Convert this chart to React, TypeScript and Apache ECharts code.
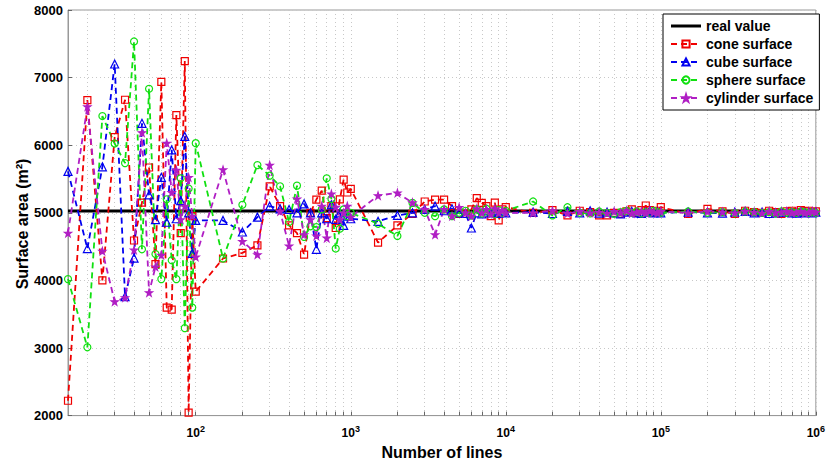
import React, { useEffect, useRef } from "react";
import * as echarts from "echarts";

// Number of lines (x values shared by all series)
const lineCounts = [
  15, 20, 25, 30, 35, 40, 45, 50, 55, 60, 65, 70, 75, 80, 85, 90, 95, 100,
  150, 200, 250, 300, 350, 400, 450, 500, 550, 600, 650, 700, 750, 800, 850, 900, 950, 1000,
  1500, 2000, 2500, 3000, 3500, 4000, 4500, 5000, 5500, 6000, 6500, 7000, 7500, 8000, 8500, 9000, 9500, 10000,
  15000, 20000, 25000, 30000, 35000, 40000, 45000, 50000, 55000, 60000, 65000, 70000, 75000, 80000, 85000, 90000, 95000, 100000,
  150000, 200000, 250000, 300000, 350000, 400000, 450000, 500000, 550000, 600000, 650000, 700000, 750000, 800000, 850000, 900000, 950000, 1000000,
];

const realValue = 5025;

const coneArea = [
  2220, 6666, 4000, 6118, 6672, 4590, 5150, 5670, 4240, 6937, 3598, 3569, 6446, 4700, 7245, 2044, 4950, 3833,
  4324, 4407, 4519, 5392, 5100, 4814, 4700, 4382, 5000, 5196, 5328, 4922, 5100, 4775, 5200, 5490, 5300, 5353,
  4559, 4813, 4985, 5167, 5196, 5196, 5100, 4985, 4985, 5050, 5216, 5147, 5100, 4950, 5150, 4887, 5050, 5083,
  5000, 5040, 4961, 5030, 5010, 4961, 4961, 5000, 4985, 5020, 5050, 5000, 5040, 5108, 5040, 5000, 5030, 5083,
  4985, 5059, 5020, 4985, 5030, 5010, 5000, 5030, 5010, 4985, 5020, 5030, 5010, 5040, 5020, 5030, 5010, 5020,
];

const cubeArea = [
  5613, 4471, 5680, 7201, 3760, 4330, 6324, 5265, 4900, 5525, 4860, 5930, 4912, 5180, 6130, 5000, 4400, 4887,
  4887, 4716, 4936, 5098, 5059, 5049, 5000, 5132, 5000, 4460, 5000, 4912, 5118, 4902, 5000, 4814, 4950, 4912,
  4873, 4961, 5000, 5050, 5098, 5030, 5059, 5000, 4990, 4775, 5000, 4985, 5030, 5000, 5040, 4990, 5010, 5000,
  5010, 4990, 5020, 5000, 5030, 4995, 5010, 5000, 4985, 5010, 5020, 5000, 4990, 5010, 5030, 5000, 5010, 5000,
  5010, 5000, 4995, 5010, 5020, 5000, 5010, 4990, 5000, 5010, 5005, 5000, 4995, 5010, 5000, 5005, 5000, 5010,
];

const sphereArea = [
  4019, 3010, 6431, 6025, 5735, 7534, 4460, 6834, 4390, 4019, 5200, 4299, 4019, 5510, 3294, 5360, 3598, 6030,
  4324, 5118, 5706, 5550, 5392, 4863, 5402, 4643, 4800, 4789, 5050, 5510, 5206, 4471, 4765, 5050, 4950, 5000,
  4838, 4657, 5147, 5000, 4950, 5050, 4950, 5000, 5030, 4960, 5050, 4990, 5060, 5000, 4980, 5040, 5000, 5030,
  5167, 4961, 5083, 5000, 4990, 5020, 5000, 4985, 5010, 5030, 5000, 5020, 4990, 5010, 5000, 5030, 5010, 5000,
  5020, 5000, 5010, 4995, 5020, 5010, 5000, 5010, 4990, 5020, 5000, 5010, 5000, 5020, 5010, 5000, 5010, 5000,
];

const cylinderArea = [
  4700, 6569, 4434, 3687, 3746, 4450, 6186, 3820, 4201, 4373, 6030, 5300, 5632, 4900, 5100, 5525, 4950, 4348,
  5637, 4578, 4382, 5706, 5020, 4510, 5206, 4676, 4900, 4657, 5100, 4627, 5279, 5083, 4900, 5000, 5100, 4936,
  5255, 5294, 5150, 5050, 4676, 5050, 4950, 5080, 5000, 4950, 5060, 5000, 5050, 4980, 5060, 5000, 5040, 5000,
  5000, 5030, 4990, 5020, 5000, 5010, 4990, 5020, 5000, 5030, 4990, 5010, 5020, 5000, 5030, 5010, 5000, 5020,
  5000, 5020, 5010, 5000, 5020, 5010, 4995, 5020, 5000, 5010, 5020, 5000, 5010, 5020, 5000, 5010, 5020, 5010,
];

const xLabelValues = [100, 1000, 10000, 100000, 1000000];
const xGridValues = [
  20, 30, 40, 50, 60, 70, 80, 90, 100,
  200, 300, 400, 500, 600, 700, 800, 900, 1000,
  2000, 3000, 4000, 5000, 6000, 7000, 8000, 9000, 10000,
  20000, 30000, 40000, 50000, 60000, 70000, 80000, 90000, 100000,
  200000, 300000, 400000, 500000, 600000, 700000, 800000, 900000, 1000000,
];

const RED = "#f00000";
const BLUE = "#0000f0";
const GREEN = "#10e010";
const PURPLE = "#b01ec4";
const FONT = "'Liberation Sans', Arial, sans-serif";
const STAR = "path://M50,0 L61,35 L98,35 L68,57 L79,91 L50,70 L21,91 L32,57 L2,35 L39,35 Z";

function pairs(ys: number[]) {
  return lineCounts.map((x, i) => [x, ys[i]]);
}

function dataSeries(name: string, ys: number[], color: string, symbol: string, size: number, filled: boolean) {
  return {
    name,
    type: "line",
    data: pairs(ys),
    symbol,
    symbolSize: size,
    showAllSymbol: true,
    lineStyle: { color, width: 1.8, type: [6, 4] },
    itemStyle: { color: filled ? color : "rgba(255,255,255,0)", borderColor: color, borderWidth: 1.2 },
    emphasis: { disabled: true },
  };
}

export default function App() {
  const ref = useRef<HTMLDivElement>(null);
  useEffect(() => {
    if (!ref.current) return;
    const chart = echarts.init(ref.current, null, { renderer: "svg" });
    const option: any = {
      animation: false,
      backgroundColor: "#fff",
      textStyle: { fontFamily: FONT },
      grid: { left: 68, right: 7, top: 10, bottom: 47, show: true, borderColor: "#999", borderWidth: 1 },
      legend: {
        orient: "vertical",
        left: 663,
        top: 14,
        padding: [5, 6, 5, 7],
        itemGap: 4,
        itemWidth: 30,
        itemHeight: 9,
        backgroundColor: "#fff",
        borderColor: "#000",
        borderWidth: 1,
        borderRadius: 0,
        textStyle: { fontSize: 14, fontWeight: "bold", color: "#000", fontFamily: FONT },
        data: [
          { name: "real value", icon: "path://M0,0 L30,0 L30,3 L0,3 Z", itemStyle: { color: "#000", borderWidth: 0 } },
          "cone surface",
          "cube surface",
          "sphere surface",
          "cylinder surface",
        ],
      },
      xAxis: {
        type: "log",
        logBase: 10,
        min: 15,
        max: 1000000,
        name: "Number of lines",
        nameLocation: "middle",
        nameGap: 28,
        nameTextStyle: { fontSize: 16, fontWeight: "bold", color: "#000", fontFamily: FONT },
        axisLine: { show: true, lineStyle: { color: "#999", width: 1 } },
        axisTick: { show: true, inside: true, length: 4, customValues: xGridValues, lineStyle: { color: "#666" } },
        axisLabel: {
          customValues: xLabelValues,
          margin: 9,
          formatter: (v: number) => "{b|10}{s|" + Math.round(Math.log10(v)) + "}",
          rich: {
            b: { fontSize: 12, fontWeight: "bold", color: "#000", fontFamily: FONT },
            s: { fontSize: 9, fontWeight: "bold", color: "#000", fontFamily: FONT, padding: [0, 0, 8, 0] },
          },
        },
        splitLine: { show: true, lineStyle: { color: "#c8c8c8", type: [1, 3], width: 1 } },
        minorTick: { show: false },
      },
      yAxis: {
        type: "value",
        min: 2000,
        max: 8000,
        interval: 1000,
        axisLine: { show: true, lineStyle: { color: "#999", width: 1 } },
        axisTick: { show: true, inside: true, length: 4, lineStyle: { color: "#666" } },
        axisLabel: {
          fontSize: 13,
          fontWeight: "bold",
          color: "#000",
          margin: 5,
          fontFamily: FONT,
          formatter: (v: number) => String(v),
        },
        splitLine: { show: true, lineStyle: { color: "#c8c8c8", type: [1, 3], width: 1 } },
      },
      graphic: [
        {
          type: "text",
          x: 22,
          y: 224,
          rotation: Math.PI / 2,
          style: {
            text: "Surface area (m²)",
            fontSize: 16,
            fontWeight: "bold",
            fill: "#000",
            fontFamily: FONT,
            align: "center",
            verticalAlign: "middle",
          },
        },
      ],
      series: [
        {
          name: "real value",
          type: "line",
          data: [
            [lineCounts[0], realValue],
            [lineCounts[lineCounts.length - 1], realValue],
          ],
          symbol: "none",
          lineStyle: { color: "#000", width: 3 },
          itemStyle: { color: "#000" },
          emphasis: { disabled: true },
        },
        dataSeries("cone surface", coneArea, RED, "rect", 7, false),
        dataSeries("cube surface", cubeArea, BLUE, "triangle", 8, false),
        dataSeries("sphere surface", sphereArea, GREEN, "circle", 7, false),
        dataSeries("cylinder surface", cylinderArea, PURPLE, STAR, 7, true),
      ],
    };
    chart.setOption(option);
    return () => chart.dispose();
  }, []);
  return <div ref={ref} style={{ position: "absolute", left: 0, top: 0, width: 828, height: 465 }} />;
}
